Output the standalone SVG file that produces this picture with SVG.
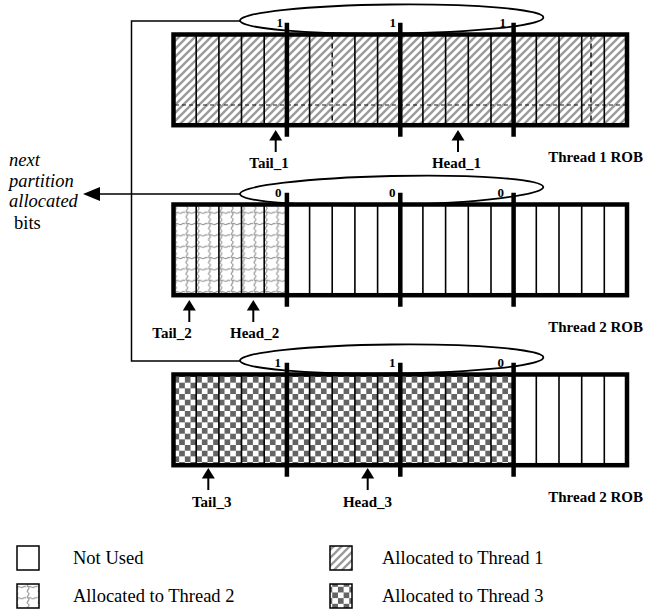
<svg xmlns="http://www.w3.org/2000/svg" width="646" height="610" viewBox="0 0 646 610">
<style>
.frame{fill:none;stroke:#000;stroke-width:4.5}
.thin{stroke:#000;stroke-width:1.6}
.thick{stroke:#000;stroke-width:4.5}
.ell{fill:none;stroke:#000;stroke-width:1.8}
.conn{fill:none;stroke:#000;stroke-width:1.5}
.num{font-family:"Liberation Serif","Times New Roman",serif;font-weight:bold;font-size:13px;text-anchor:end}
.lbl{font-family:"Liberation Serif","Times New Roman",serif;font-weight:bold;font-size:15px;text-anchor:middle}
.rob{font-family:"Liberation Serif","Times New Roman",serif;font-weight:bold;font-size:15px;text-anchor:end}
.side{font-family:"Liberation Serif","Times New Roman",serif;font-size:18.5px}
.leg{font-family:"Liberation Serif","Times New Roman",serif;font-size:18.5px}
.ptr{fill:#000;stroke:none}
.stem{stroke:#000;stroke-width:2}
.box{stroke:#000;stroke-width:1.5}
</style>
<defs>
<pattern id="hatch" patternUnits="userSpaceOnUse" x="0" y="0" width="8" height="8">
<rect width="8" height="8" fill="#fff"/>
<path d="M-1,1 L1,-1 M0,8 L8,0 M7,9 L9,7" stroke="#9a9a9a" stroke-width="2.3"/>
</pattern>
<pattern id="checker" patternUnits="userSpaceOnUse" x="173.5" y="377" width="11.34" height="11.34">
<rect width="11.34" height="11.34" fill="#fff"/>
<rect width="5.67" height="5.67" fill="#646464"/>
<rect x="5.67" y="5.67" width="5.67" height="5.67" fill="#646464"/>
</pattern>
<pattern id="wavy" patternUnits="userSpaceOnUse" x="173.5" y="207" width="11.34" height="11.34">
<rect width="11.34" height="11.34" fill="#fff"/>
<path d="M2,0 C5,2 -1,4 2,5.67 C5,7.5 -1,9.5 2,11.34 M2,5.67 C4,3.5 6,8 8.5,5.67 C10,4 11,6 13.34,5.67" fill="none" stroke="#999" stroke-width="1.2"/>
</pattern>
<g id="divs">
<path class="thin" d="M196.2,34.5V125.2M218.9,34.5V125.2M241.5,34.5V125.2M264.2,34.5V125.2M309.6,34.5V125.2M354.9,34.5V125.2M377.6,34.5V125.2M422.9,34.5V125.2M445.6,34.5V125.2M468.3,34.5V125.2M491,34.5V125.2M536.3,34.5V125.2M559,34.5V125.2M581.7,34.5V125.2M604.3,34.5V125.2"/>
</g>
<g id="thicks">
<path class="thick" d="M286.9,22.7V136.7M400.3,22.7V136.7M513.6,22.7V136.7"/>
</g>
<g id="ptr">
<polygon class="ptr" points="0,130 -6.5,140.5 6.5,140.5"/>
<line class="stem" x1="0" y1="140" x2="0" y2="152"/>
</g>
</defs>

<g id="connectors">
<polyline class="conn" points="241,21 131.5,21 131.5,361 241,361"/>
<line class="conn" x1="241" y1="194" x2="99" y2="194"/>
<polygon class="ptr" points="83,194 100,187 100,201"/>
</g>

<g id="rob1">
<rect x="173.5" y="34.5" width="453.5" height="90.7" fill="url(#hatch)"/>
<path d="M175,105H625" stroke="#000" stroke-width="0.9" stroke-dasharray="4,3"/>
<use href="#divs"/>
<path d="M332.2,34.5V125.2M591,34.5V125.2" stroke="#000" stroke-width="1.4" stroke-dasharray="5,4"/>
<rect class="frame" x="173.5" y="34.5" width="453.5" height="90.7"/>
<use href="#thicks"/>
</g>
<g id="bits1">
<ellipse class="ell" cx="391.7" cy="19" rx="151.7" ry="14.5" transform="rotate(-0.6 391.7 19)"/>
<text class="num" x="283" y="27">1</text>
<text class="num" x="396" y="27">1</text>
<text class="num" x="506" y="27">1</text>
</g>
<g id="ptrs1">
<use href="#ptr" x="275.7"/>
<use href="#ptr" x="458"/>
<text class="lbl" x="269" y="168">Tail_1</text>
<text class="lbl" x="456.5" y="168">Head_1</text>
<text class="rob" x="643" y="162">Thread 1 ROB</text>
</g>

<g id="rob2">
<rect x="173.5" y="204.5" width="453.5" height="90.7" fill="#fff"/>
<rect x="173.5" y="204.5" width="113.4" height="90.7" fill="url(#wavy)"/>
<use href="#divs" y="170"/>
<path class="thin" d="M332.2,204.5V295.2"/>
<rect class="frame" x="173.5" y="204.5" width="453.5" height="90.7"/>
<use href="#thicks" y="170"/>
</g>
<g id="bits2">
<ellipse class="ell" cx="391.7" cy="190.5" rx="151.7" ry="14.5" transform="rotate(-1.3 391.7 190.5)"/>
<text class="num" x="281.5" y="197">0</text>
<text class="num" x="395.5" y="197">0</text>
<text class="num" x="504" y="197">0</text>
</g>
<g id="ptrs2">
<use href="#ptr" x="189.3" y="170"/>
<use href="#ptr" x="253.3" y="170"/>
<text class="lbl" x="172" y="338">Tail_2</text>
<text class="lbl" x="254.6" y="338">Head_2</text>
<text class="rob" x="643" y="332">Thread 2 ROB</text>
</g>

<g id="rob3">
<rect x="173.5" y="374.5" width="453.5" height="90.7" fill="#fff"/>
<rect x="173.5" y="374.5" width="340.1" height="90.7" fill="url(#checker)"/>
<use href="#divs" y="340"/>
<path class="thin" d="M332.2,374.5V465.2"/>
<rect class="frame" x="173.5" y="374.5" width="453.5" height="90.7"/>
<use href="#thicks" y="340"/>
</g>
<g id="bits3">
<ellipse class="ell" cx="391.7" cy="359" rx="151.7" ry="14.5" transform="rotate(-0.6 391.7 359)"/>
<text class="num" x="281" y="367">1</text>
<text class="num" x="395.5" y="367">1</text>
<text class="num" x="504" y="367">0</text>
</g>
<g id="ptrs3">
<use href="#ptr" x="208.3" y="338"/>
<use href="#ptr" x="367.7" y="338"/>
<text class="lbl" x="211.7" y="507">Tail_3</text>
<text class="lbl" x="367.5" y="507">Head_3</text>
<text class="rob" x="643" y="502">Thread 2 ROB</text>
</g>

<g id="side-label">
<text class="side" font-style="italic" x="9" y="165.5">next</text>
<text class="side" font-style="italic" x="9" y="187">partition</text>
<text class="side" font-style="italic" x="9" y="207">allocated</text>
<text class="side" x="14" y="229">bits</text>
</g>

<g id="legend">
<rect class="box" x="17" y="546" width="22" height="24" fill="#fff"/>
<text class="leg" x="73" y="564">Not Used</text>
<rect class="box" x="330" y="546" width="22" height="24" fill="url(#hatch)"/>
<text class="leg" x="382" y="564">Allocated to Thread 1</text>
<rect class="box" x="17" y="584" width="22" height="24" fill="url(#wavy)"/>
<text class="leg" x="73" y="602">Allocated to Thread 2</text>
<rect class="box" x="330" y="584" width="22" height="24" fill="url(#checker)"/>
<text class="leg" x="382" y="602">Allocated to Thread 3</text>
</g>
</svg>
